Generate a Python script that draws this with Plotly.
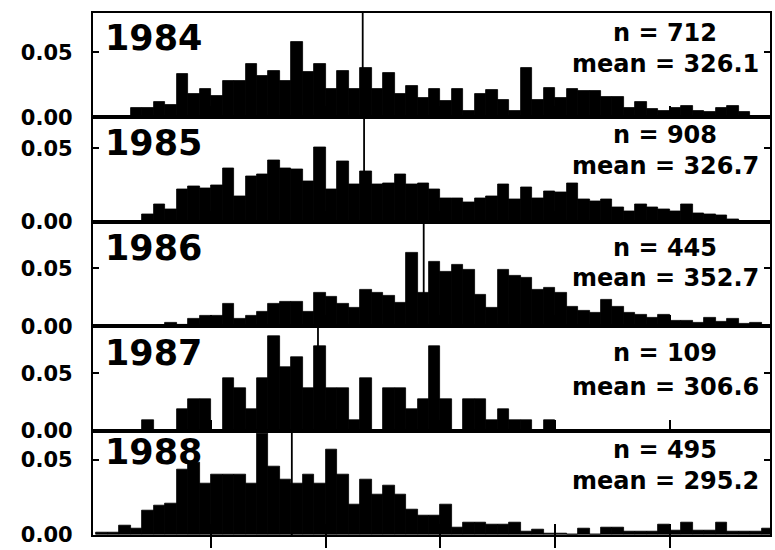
import plotly.graph_objects as go
from plotly.subplots import make_subplots

# Length classes (lower edge of each 5-unit bin)
BIN_WIDTH = 5
bin_starts = list(range(210, 505, BIN_WIDTH))

years = [1984, 1985, 1986, 1987, 1988]
n_fish = [712, 908, 445, 109, 495]
mean_length = [326.1, 326.7, 352.7, 306.6, 295.2]

# Relative frequency per length class
freq_1984 = [0, 0, 0, 0.0072, 0.0072, 0.0115, 0.0095, 0.0336, 0.0179, 0.0217,
             0.0166, 0.028, 0.028, 0.0412, 0.0318, 0.0356, 0.028, 0.058, 0.035, 0.041,
             0.0217, 0.0356, 0.0217, 0.038, 0.0217, 0.034, 0.0179, 0.0242, 0.0153, 0.0217,
             0.0127, 0.0217, 0.005, 0.0179, 0.021, 0.0135, 0.005, 0.038, 0.0135, 0.023,
             0.0153, 0.0217, 0.02, 0.02, 0.016, 0.016, 0.0076, 0.012, 0.0064, 0.005,
             0.0076, 0.009, 0.005, 0.004, 0.0076, 0.0089, 0.004, 0.001, 0]
freq_1985 = [0, 0, 0, 0, 0.005, 0.0117, 0.0083, 0.0218, 0.024, 0.023,
             0.0247, 0.0365, 0.0173, 0.0308, 0.032, 0.042, 0.0365, 0.036, 0.0274, 0.051,
             0.0218, 0.041, 0.0252, 0.034, 0.0252, 0.026, 0.0324, 0.0252, 0.026, 0.0218,
             0.0162, 0.016, 0.0135, 0.0162, 0.0173, 0.0252, 0.0155, 0.0236, 0.0162, 0.021,
             0.02, 0.026, 0.0155, 0.014, 0.0155, 0.0095, 0.0072, 0.0117, 0.01, 0.0083,
             0.0072, 0.012, 0.0054, 0.005, 0.0045, 0.0015, 0, 0, 0]
freq_1986 = [0, 0, 0, 0, 0, 0, 0.003, 0.001, 0.0063, 0.0086,
             0.0086, 0.019, 0.0066, 0.0086, 0.0123, 0.019, 0.0214, 0.0214, 0.0123, 0.0286,
             0.025, 0.019, 0.016, 0.0314, 0.0286, 0.026, 0.02, 0.063, 0.0286, 0.0557,
             0.047, 0.053, 0.0486, 0.027, 0.0157, 0.0486, 0.0437, 0.0414, 0.0314, 0.033,
             0.0286, 0.017, 0.0129, 0.0114, 0.0228, 0.017, 0.0114, 0.01, 0.0071, 0.01,
             0.0043, 0.005, 0.003, 0.0071, 0.004, 0.006, 0.002, 0.003, 0]
# 1987 sample is small: fish counted per length class
count_1987 = [0, 0, 0, 0, 1, 0, 0, 2, 3, 3,
              0, 5, 4, 2, 5, 9, 6, 7, 4, 8,
              4, 4, 1, 5, 0, 4, 4, 2, 3, 8,
              3, 0, 3, 3, 1, 2, 1, 1, 0, 1,
              0, 0, 0, 0, 0, 0, 0, 0, 0, 0,
              0, 0, 0, 0, 0, 0, 0, 0, 0]
freq_1987 = [c / n_fish[3] for c in count_1987]
freq_1988 = [0.0018, 0.0018, 0.006, 0.004, 0.0165, 0.0198, 0.021, 0.0434, 0.048, 0.0345,
             0.040, 0.040, 0.040, 0.0345, 0.0676, 0.0456, 0.0368, 0.0345, 0.040, 0.0345,
             0.057, 0.040, 0.0203, 0.0368, 0.0269, 0.0328, 0.027, 0.017, 0.0126, 0.0126,
             0.0203, 0.0048, 0.008, 0.008, 0.007, 0.007, 0.008, 0.002, 0.0037, 0.001,
             0.001, 0, 0.004, 0, 0.005, 0.005, 0.002, 0.002, 0.002, 0.007,
             0.003, 0.008, 0.003, 0.003, 0.008, 0.002, 0.002, 0.002, 0.004]
frequencies = [freq_1984, freq_1985, freq_1986, freq_1987, freq_1988]

x_ticks = [260, 310, 360, 410, 460]
y_ticks = [0.0, 0.05]
y_tick_text = ["0.00", "0.05"]

# Axis extents for each panel
X_RANGE = [208.5, 503.7]
y_max = [0.0803, 0.0711, 0.0902, 0.0913, 0.0695]

# Label offsets below each panel top (pixels)
year_off = [25, 26, 26, 27, 22]
n_off = [20, 18, 26, 27, 20]
mean_off = [51, 49, 57, 61, 51]

FONT = "DejaVu Sans"
W, H = 775, 550
M = dict(l=93, r=3, t=13, b=11)
panel_h = (H - M["t"] - M["b"]) / len(years)
plot_w = W - M["l"] - M["r"]

fig = make_subplots(rows=len(years), cols=1, shared_xaxes=True, vertical_spacing=0)

centers = [b + BIN_WIDTH / 2 for b in bin_starts]
for i, (yr, freq) in enumerate(zip(years, frequencies), start=1):
    fig.add_trace(
        go.Bar(x=centers, y=freq, width=BIN_WIDTH,
               marker=dict(color="black", line=dict(color="black", width=0.8)),
               showlegend=False, hoverinfo="skip"),
        row=i, col=1)
    ydom = f"y{'' if i == 1 else i} domain"
    xdom = f"x{'' if i == 1 else i} domain"
    fig.add_shape(type="line", x0=mean_length[i - 1], x1=mean_length[i - 1],
                  y0=0, y1=1, xref=f"x{'' if i == 1 else i}", yref=ydom,
                  line=dict(color="black", width=1.8))
    fig.add_annotation(text=str(yr), xref=xdom, yref=ydom,
                       x=(103 - M["l"]) / plot_w, y=1 - year_off[i - 1] / panel_h,
                       xanchor="left", yanchor="middle", showarrow=False,
                       font=dict(family=FONT, size=35, color="black", weight="bold"))
    fig.add_annotation(text=f"n = {n_fish[i - 1]}", xref=xdom, yref=ydom,
                       x=(667 - M["l"]) / plot_w, y=1 - n_off[i - 1] / panel_h,
                       xanchor="center", yanchor="middle", showarrow=False,
                       font=dict(family=FONT, size=24, color="black", weight="bold"))
    fig.add_annotation(text=f"mean = {mean_length[i - 1]:.1f}", xref=xdom, yref=ydom,
                       x=(763 - M["l"]) / plot_w, y=1 - mean_off[i - 1] / panel_h,
                       xanchor="right", yanchor="middle", showarrow=False,
                       font=dict(family=FONT, size=24, color="black", weight="bold"))
    fig.update_yaxes(row=i, col=1, range=[0, y_max[i - 1]], tickvals=y_ticks,
                     ticktext=y_tick_text, ticks="inside", ticklen=6, tickwidth=1.5,
                     tickcolor="black", showline=True, linewidth=2.2, linecolor="black",
                     mirror="ticks", showgrid=False, zeroline=False,
                     ticklabelstandoff=14,
                     tickfont=dict(family=FONT, size=21, color="black", weight="bold"))
    fig.update_xaxes(row=i, col=1, range=X_RANGE, tickvals=x_ticks, ticks="inside",
                     ticklen=11, tickwidth=1.5, tickcolor="black", showticklabels=False,
                     showline=True, linewidth=2.2, linecolor="black", mirror=True,
                     showgrid=False, zeroline=False)

# Outward tick marks under the bottom panel
fig.add_trace(go.Scatter(x=[None], y=[None], xaxis="x6", yaxis="y5",
                         showlegend=False, hoverinfo="skip"))
fig.update_layout(
    xaxis6=dict(overlaying="x5", anchor="y5", side="bottom", range=X_RANGE,
                tickvals=x_ticks, ticks="outside", ticklen=12, tickwidth=1.5,
                tickcolor="black", showticklabels=False, showline=False,
                showgrid=False, zeroline=False),
)

fig.update_layout(width=W, height=H, margin=M, bargap=0,
                  paper_bgcolor="white", plot_bgcolor="white")

fig.write_html("out.html")
